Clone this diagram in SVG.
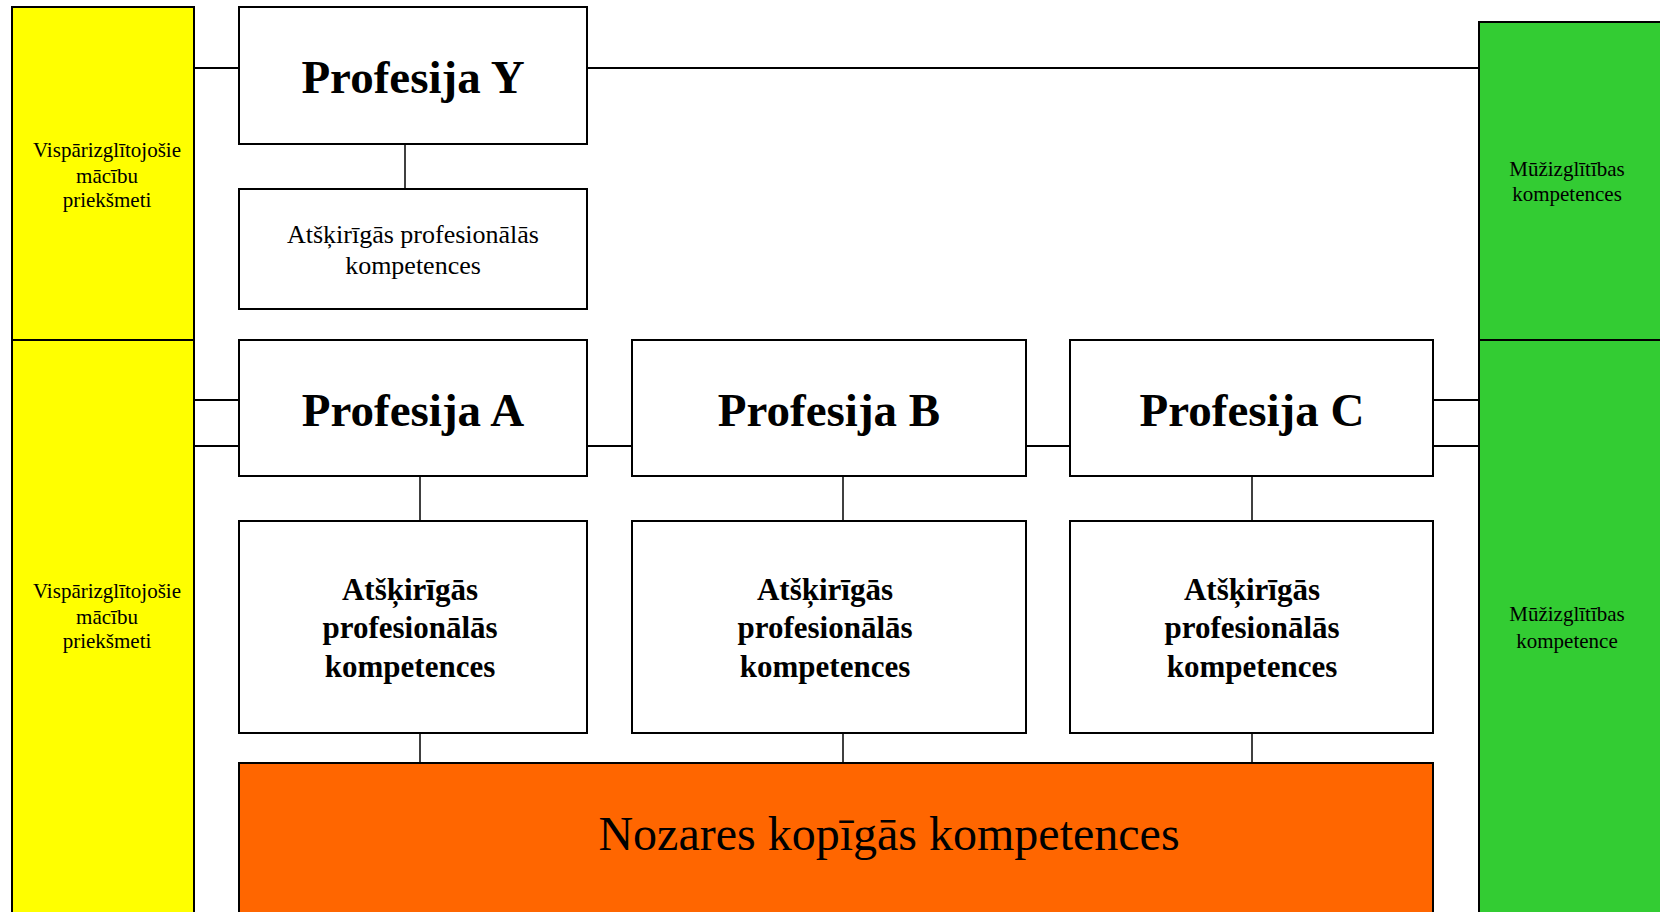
<svg xmlns="http://www.w3.org/2000/svg" width="1660" height="912" viewBox="0 0 1660 912">
<style>
  .box{fill:#fff;stroke:#000;stroke-width:2}
  .yel{fill:#FFFF00;stroke:#000;stroke-width:2}
  .grn{fill:#33CC33;stroke:#000;stroke-width:2}
  .org{fill:#FF6600;stroke:#000;stroke-width:2}
  .t{font-family:"Liberation Serif","Times New Roman",serif;fill:#000;text-anchor:middle}
  .big{font-size:47px;font-weight:bold}
  .sb{font-size:31px;font-weight:bold}
  .sr{font-size:26px}
  .side{font-size:21px}
  .con line{stroke:#000;stroke-width:2}
  .con line.v{stroke-width:1.5}
</style>
<rect width="1660" height="912" fill="#fff"/>
<g id="connectors" class="con">
  <line x1="194" y1="68" x2="239" y2="68"/>
  <line x1="587" y1="68" x2="1479" y2="68"/>
  <line class="v" x1="405" y1="144" x2="405" y2="189"/>
  <line x1="194" y1="400" x2="239" y2="400"/>
  <line x1="194" y1="446" x2="239" y2="446"/>
  <line x1="587" y1="446" x2="632" y2="446"/>
  <line x1="1026" y1="446" x2="1070" y2="446"/>
  <line x1="1433" y1="400" x2="1479" y2="400"/>
  <line x1="1433" y1="446" x2="1479" y2="446"/>
  <line class="v" x1="420" y1="476" x2="420" y2="521"/>
  <line class="v" x1="843" y1="476" x2="843" y2="521"/>
  <line class="v" x1="1252" y1="476" x2="1252" y2="521"/>
  <line class="v" x1="420" y1="733" x2="420" y2="763"/>
  <line class="v" x1="843" y1="733" x2="843" y2="763"/>
  <line class="v" x1="1252" y1="733" x2="1252" y2="763"/>
</g>
<g id="yellow-top">
  <rect class="yel" x="12" y="7" width="182" height="333"/>
  <text class="t side" x="107" y="157">Vispārizglītojošie</text>
  <text class="t side" x="107" y="183">mācību</text>
  <text class="t side" x="107" y="207">priekšmeti</text>
</g>
<g id="yellow-bottom">
  <rect class="yel" x="12" y="340" width="182" height="590"/>
  <text class="t side" x="107" y="598">Vispārizglītojošie</text>
  <text class="t side" x="107" y="624">mācību</text>
  <text class="t side" x="107" y="648">priekšmeti</text>
</g>
<g id="green-top">
  <rect class="grn" x="1479" y="22" width="200" height="318"/>
  <text class="t side" x="1567" y="176">Mūžizglītības</text>
  <text class="t side" x="1567" y="201">kompetences</text>
</g>
<g id="green-bottom">
  <rect class="grn" x="1479" y="340" width="200" height="590"/>
  <text class="t side" x="1567" y="621">Mūžizglītības</text>
  <text class="t side" x="1567" y="648">kompetence</text>
</g>
<g id="prof-y">
  <rect class="box" x="239" y="7" width="348" height="137"/>
  <text class="t big" x="413" y="93">Profesija Y</text>
</g>
<g id="prof-y-comp">
  <rect class="box" x="239" y="189" width="348" height="120"/>
  <text class="t sr" x="413" y="243">Atšķirīgās profesionālās</text>
  <text class="t sr" x="413" y="274">kompetences</text>
</g>
<g id="prof-a">
  <rect class="box" x="239" y="340" width="348" height="136"/>
  <text class="t big" x="413" y="426">Profesija A</text>
</g>
<g id="prof-b">
  <rect class="box" x="632" y="340" width="394" height="136"/>
  <text class="t big" x="829" y="426">Profesija B</text>
</g>
<g id="prof-c">
  <rect class="box" x="1070" y="340" width="363" height="136"/>
  <text class="t big" x="1252" y="426">Profesija C</text>
</g>
<g id="prof-a-comp">
  <rect class="box" x="239" y="521" width="348" height="212"/>
  <text class="t sb" x="410" y="600">Atšķirīgās</text>
  <text class="t sb" x="410" y="638">profesionālās</text>
  <text class="t sb" x="410" y="677">kompetences</text>
</g>
<g id="prof-b-comp">
  <rect class="box" x="632" y="521" width="394" height="212"/>
  <text class="t sb" x="825" y="600">Atšķirīgās</text>
  <text class="t sb" x="825" y="638">profesionālās</text>
  <text class="t sb" x="825" y="677">kompetences</text>
</g>
<g id="prof-c-comp">
  <rect class="box" x="1070" y="521" width="363" height="212"/>
  <text class="t sb" x="1252" y="600">Atšķirīgās</text>
  <text class="t sb" x="1252" y="638">profesionālās</text>
  <text class="t sb" x="1252" y="677">kompetences</text>
</g>
<g id="shared">
  <rect class="org" x="239" y="763" width="1194" height="170"/>
  <text class="t" x="889" y="850" font-size="48">Nozares kopīgās kompetences</text>
</g>
</svg>
